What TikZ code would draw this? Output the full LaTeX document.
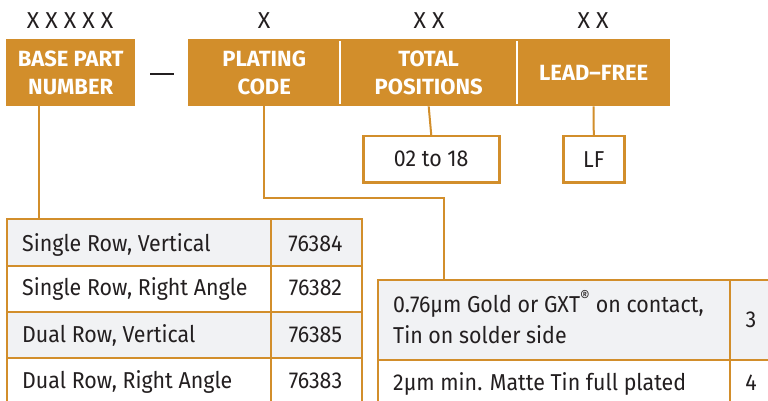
\documentclass[tikz,border=0pt]{standalone}
\usepackage{fontspec}
\setmainfont{Fira Sans}[FakeStretch=0.93]
\newfontfamily\hfont{Fira Sans}
\usetikzlibrary{calc}
\definecolor{org}{HTML}{D28E2B}
\definecolor{cellgray}{HTML}{F1F2F4}
\definecolor{ink}{HTML}{231F20}
\begin{document}
\begin{tikzpicture}[x=1pt,y=-1pt,
  hdr/.style={fill=org,text=white,inner sep=0pt,align=center,anchor=north west,
    font=\hfont\fontsize{22}{28}\selectfont\bfseries},
  xlbl/.style={anchor=base,text=ink,font=\hfont\fontsize{23}{25}\selectfont},
  optbox/.style={draw=org,line width=2.5pt,fill=white,inner sep=0pt,anchor=north west,
    text=ink,font=\fontsize{23}{25}\selectfont},
  cell/.style={draw=org,line width=2pt,inner sep=0pt,anchor=north west},
  gcell/.style={cell,fill=cellgray},
  wcell/.style={cell,fill=white},
  txt/.style={anchor=base west,text=ink,inner sep=0pt,font=\fontsize{23}{25}\selectfont},
  num/.style={anchor=base,text=ink,inner sep=0pt,font=\fontsize{23}{25}\selectfont},
  conn/.style={draw=org,line width=2pt}]
\useasboundingbox (0,0) rectangle (768,401);
\clip (0,0) rectangle (768,401);
\fill[white] (0,0) rectangle (768,401);

% X labels
\node[xlbl] (xa) at (70,29) {X X X X X};
\node[xlbl] (xb) at (264,29) {X};
\node[xlbl] (xc) at (429,29) {X X};
\node[xlbl] (xd) at (593,29) {X X};

% header blocks
\node[hdr,minimum width=129pt,minimum height=67pt] (base) at (6,39) {BASE PART\\NUMBER};
\draw[ink,line width=2.5pt] (150,74) -- (174,74);
\node[hdr,minimum width=152pt,minimum height=67pt] (plating) at (188,39) {PLATING\\CODE};
\node[hdr,minimum width=177pt,minimum height=67pt] (total) at (340,39) {TOTAL\\POSITIONS};
\node[hdr,minimum width=153pt,minimum height=67pt] (lead) at (517,39) {LEAD–FREE};
\draw[white,line width=2pt] ($(total.north west)+(0,2)$) -- ($(total.south west)+(0,-2)$);
\draw[white,line width=2pt] ($(lead.north west)+(0,2)$) -- ($(lead.south west)+(0,-2)$);

% option boxes
\node[optbox,minimum width=136pt,minimum height=46pt] (pos) at (362,135) {02 to 18};
\node[optbox,minimum width=61pt,minimum height=46pt] (lf) at (562,135) {LF};
\draw[conn] (total.south) -- (pos.north);
\draw[conn] (lead.south) -- (lf.north);

% left table
\node[gcell,minimum width=264pt,minimum height=47pt] (a1) at (6,218) {};
\node[gcell,minimum width=91pt,minimum height=47pt] (b1) at (270,218) {};
\node[wcell,minimum width=264pt,minimum height=46pt] (a2) at (6,265) {};
\node[wcell,minimum width=91pt,minimum height=46pt] (b2) at (270,265) {};
\node[gcell,minimum width=264pt,minimum height=46pt] (a3) at (6,311) {};
\node[gcell,minimum width=91pt,minimum height=46pt] (b3) at (270,311) {};
\node[wcell,minimum width=264pt,minimum height=50pt] (a4) at (6,357) {};
\node[wcell,minimum width=91pt,minimum height=50pt] (b4) at (270,357) {};
\node[txt] (ta1) at (22,251) {Single Row, Vertical};
\node[num] (tb1) at (315.5,251) {76384};
\node[txt] (ta2) at (22,295) {Single Row, Right Angle};
\node[num] (tb2) at (315.5,295) {76382};
\node[txt] (ta3) at (22,342) {Dual Row, Vertical};
\node[num] (tb3) at (315.5,342) {76385};
\node[txt] (ta4) at (22,388) {Dual Row, Right Angle};
\node[num] (tb4) at (315.5,388) {76383};

% right table
\node[gcell,minimum width=352pt,minimum height=80pt] (c1) at (377,279) {};
\node[gcell,minimum width=60pt,minimum height=80pt] (d1) at (729,279) {};
\node[wcell,minimum width=352pt,minimum height=50pt] (c2) at (377,359) {};
\node[wcell,minimum width=60pt,minimum height=50pt] (d2) at (729,359) {};
\node[txt] (tc1a) at (393,312) {0.76µm Gold or GXT\textsuperscript{®} on contact,};
\node[txt] (tc1b) at (393,343) {Tin on solder side};
\node[num] (td1) at (751,327) {3};
\node[txt] (tc2) at (393,390) {2µm min. Matte Tin full plated};
\node[num] (td2) at (751,390) {4};

% connectors
\coordinate (abot) at (39,218);
\draw[conn] (base.south -| abot) -- (abot);
\coordinate (pbend) at (444,198);
\coordinate (pjoin) at (444,279);
\draw[conn] (plating.south) |- (pbend) -- (pjoin);
\end{tikzpicture}
\end{document}
